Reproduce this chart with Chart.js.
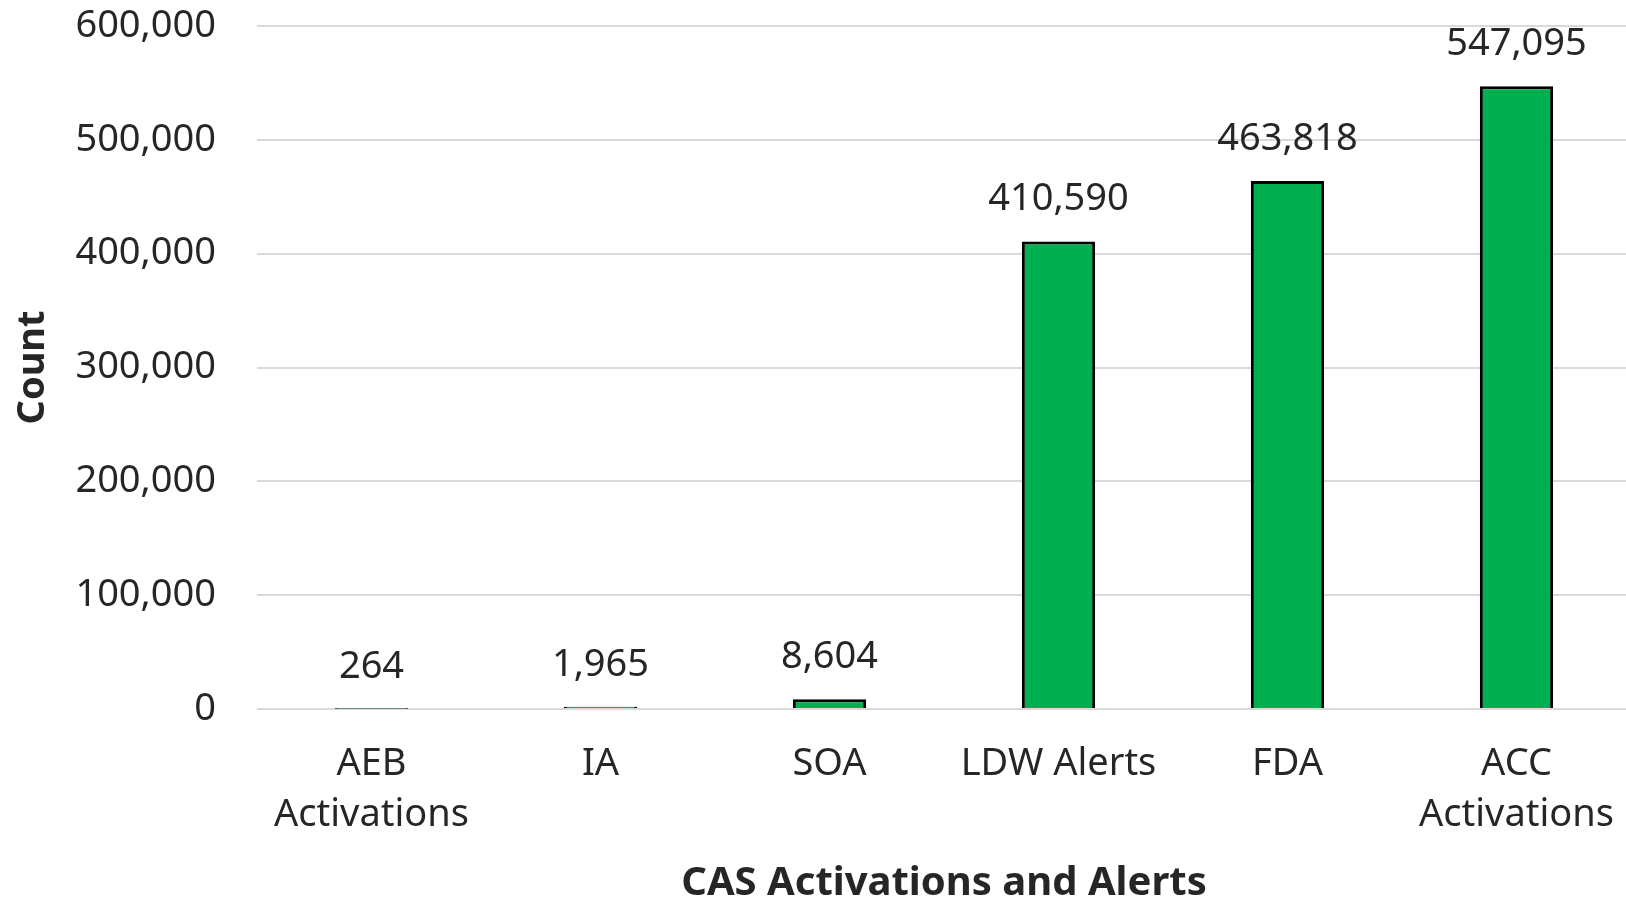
<!DOCTYPE html>
<html>
<head>
<meta charset="utf-8">
<script src="https://cdn.jsdelivr.net/npm/chart.js@4"></script>
<style>
  html, body { margin: 0; padding: 0; background: #fff; overflow: hidden; }
  #wrap { width: 1626px; height: 900px; overflow: hidden; }
</style>
</head>
<body>
<div id="wrap"><canvas id="casChart" width="1631" height="900"></canvas></div>
<script>
var categories = [['AEB', 'Activations'], 'IA', 'SOA', 'LDW Alerts', 'FDA', ['ACC', 'Activations']];
var counts = [264, 1965, 8604, 410590, 463818, 547095];
var yTicks = [0, 100000, 200000, 300000, 400000, 500000, 600000];

var textColor = '#262626';
var fontName = "'Noto Sans', sans-serif";

// draws the value above each bar
var valueLabels = {
    id: 'valueLabels',
    afterDatasetsDraw: function (chart) {
        var ctx = chart.ctx;
        var meta = chart.getDatasetMeta(0);
        ctx.save();
        ctx.font = '38px ' + fontName;
        ctx.fillStyle = textColor;
        ctx.textAlign = 'center';
        ctx.textBaseline = 'middle';
        meta.data.forEach(function (bar, i) {
            ctx.fillText(counts[i].toLocaleString('en-US'), bar.x, bar.y - 42);
        });
        ctx.restore();
    }
};

var ctx = document.getElementById('casChart').getContext('2d');
var myChart = new Chart(ctx, {
    type: 'bar',
    data: {
        labels: categories,
        datasets: [{
            label: 'Count',
            data: counts,
            backgroundColor: '#00B050',
            borderColor: '#000000',
            borderWidth: 3,
            borderSkipped: 'bottom',
            barPercentage: 0.32,
            categoryPercentage: 1
        }]
    },
    options: {
        responsive: false,
        animation: false,
        layout: { padding: { top: 26, right: 0, left: 0, bottom: 0 } },
        plugins: {
            legend: { display: false },
            tooltip: { enabled: false }
        },
        scales: {
            x: {
                grid: { display: false, drawTicks: false },
                border: { display: false },
                ticks: {
                    color: textColor,
                    font: { family: fontName, size: 38, lineHeight: 1.34 },
                    padding: 30,
                    maxRotation: 0,
                    minRotation: 0,
                    autoSkip: false
                },
                title: {
                    display: true,
                    text: 'CAS Activations and Alerts',
                    color: textColor,
                    font: { family: fontName, size: 40, weight: 'bold', lineHeight: 0.8 },
                    padding: { top: 0, bottom: 0 }
                },
                afterFit: function (scale) {
                    scale.height = 191;
                    scale.paddingLeft = 0;
                    scale.paddingRight = 0;
                }
            },
            y: {
                min: yTicks[0],
                max: yTicks[yTicks.length - 1],
                grid: { color: '#d9d9d9', lineWidth: 2, drawTicks: false },
                border: { display: false },
                ticks: {
                    stepSize: yTicks[1] - yTicks[0],
                    color: textColor,
                    font: { family: fontName, size: 38 },
                    padding: 41,
                    callback: function (v) { return v.toLocaleString('en-US'); }
                },
                title: {
                    display: true,
                    text: 'Count',
                    color: textColor,
                    font: { family: fontName, size: 38, weight: 'bold', lineHeight: 1.2 },
                    padding: { top: 10, bottom: 0 }
                },
                afterFit: function (scale) {
                    scale.width = 257;
                    scale.paddingTop = 0;
                    scale.paddingBottom = 0;
                }
            }
        }
    },
    plugins: [valueLabels]
});
</script>
</body>
</html>
